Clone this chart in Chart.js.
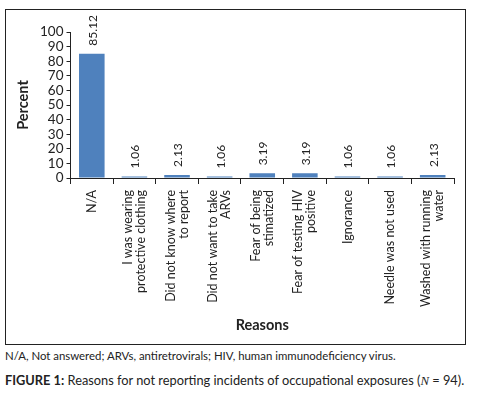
<!DOCTYPE html>
<html>
<head>
<meta charset="utf-8">
<script src="https://cdn.jsdelivr.net/npm/chart.js@4"></script>
<style>
  body { margin: 0; background: #fff; width: 478px; height: 393px; position: relative; overflow: hidden; font-family: Lato, "Open Sans", sans-serif; color: #222; }
  #box { position: absolute; left: 5px; top: 9px; width: 461px; height: 336px; box-sizing: border-box; border: 1px solid #222; }
  #wrap { position: absolute; left: 0; top: 0; width: 459px; height: 334px; }
  .note { position: absolute; left: 5px; top: 349px; font-size: 11.4px; white-space: nowrap; }
  .caption { position: absolute; left: 5px; top: 372px; font-size: 12.8px; white-space: nowrap; }
</style>
</head>
<body>
<div id="box"><div id="wrap"><canvas id="chart"></canvas></div></div>
<div class="note">N/A, Not answered; ARVs, antiretrovirals; HIV, human immunodeficiency virus.</div>
<div class="caption"><b>FIGURE 1:</b> Reasons for not reporting incidents of occupational exposures (<i style="font-family: 'Liberation Serif', serif;">N</i> = 94).</div>
<script>
const categories = [
  ['N/A'],
  ['I was wearing', 'protective clothing'],
  ['Did not know where', 'to report'],
  ['Did not want to take', 'ARVs'],
  ['Fear of being', 'stimatized'],
  ['Fear of testing HIV', 'positive'],
  ['Ignorance'],
  ['Needle was not used'],
  ['Washed with running', 'water']
];
const percents = [85.12, 1.06, 2.13, 1.06, 3.19, 3.19, 1.06, 1.06, 2.13];
const yTicks = [0, 10, 20, 30, 40, 50, 60, 70, 80, 90, 100];

const FONT = 'Lato, "Open Sans", sans-serif';
const TEXT = '#222';

// rotated value labels above the bars
const valueLabels = {
  id: 'valueLabels',
  afterDatasetsDraw(chart) {
    const ctx = chart.ctx;
    const meta = chart.getDatasetMeta(0);
    ctx.save();
    ctx.font = '12px ' + FONT;
    ctx.fillStyle = TEXT;
    ctx.textAlign = 'left';
    ctx.textBaseline = 'middle';
    meta.data.forEach((bar, i) => {
      ctx.save();
      ctx.translate(bar.x + 1, bar.y - 8);
      ctx.rotate(-Math.PI / 2);
      ctx.fillText(percents[i].toFixed(2), 0, 0);
      ctx.restore();
    });
    ctx.restore();
  }
};

// multi-line rotated category labels, centred on each tick
const categoryLabels = {
  id: 'categoryLabels',
  afterDraw(chart) {
    const ctx = chart.ctx;
    const x = chart.scales.x;
    const lh = 13;
    ctx.save();
    ctx.font = '12.5px ' + FONT;
    ctx.fillStyle = TEXT;
    ctx.textAlign = 'right';
    ctx.textBaseline = 'middle';
    categories.forEach((lines, i) => {
      const px = x.getPixelForValue(i);
      lines.forEach((line, j) => {
        ctx.save();
        ctx.translate(px + (j - (lines.length - 1) / 2) * lh, x.top + 12);
        ctx.rotate(-Math.PI / 2);
        ctx.fillText(line, 0, 0);
        ctx.restore();
      });
    });
    ctx.restore();
  }
};

new Chart(document.getElementById('chart'), {
  type: 'bar',
  data: {
    labels: categories,
    datasets: [{
      data: percents,
      backgroundColor: '#4F81BD',
      categoryPercentage: 1,
      barPercentage: 0.6
    }]
  },
  plugins: [valueLabels, categoryLabels],
  options: {
    responsive: true,
    maintainAspectRatio: false,
    animation: false,
    layout: { padding: { top: 22, right: 11, left: 0, bottom: 0 } },
    plugins: {
      legend: { display: false },
      tooltip: { enabled: false }
    },
    scales: {
      x: {
        ticks: { display: false },
        grid: { display: true, drawOnChartArea: false, drawTicks: true, tickLength: 6, color: TEXT, offset: true },
        border: { display: true, color: TEXT },
        title: { display: true, text: 'Reasons', color: TEXT, font: { family: FONT, size: 14.5, weight: 'bold' }, padding: { top: 0, bottom: 10 } },
        afterFit: s => { s.height = 166; }
      },
      y: {
        min: 0,
        max: 100,
        afterBuildTicks: s => { s.ticks = yTicks.map(v => ({ value: v })); },
        ticks: { color: TEXT, font: { family: FONT, size: 13.5 }, padding: 3, autoSkip: false },
        grid: { display: true, drawOnChartArea: false, drawTicks: true, tickLength: 4, color: TEXT },
        border: { display: true, color: TEXT },
        title: { display: true, text: 'Percent', color: TEXT, font: { family: FONT, size: 14.5, weight: 'bold' }, padding: { top: 9, bottom: 0 } },
        afterFit: s => { s.width = 64.5; }
      }
    }
  }
});
</script>
</body>
</html>
